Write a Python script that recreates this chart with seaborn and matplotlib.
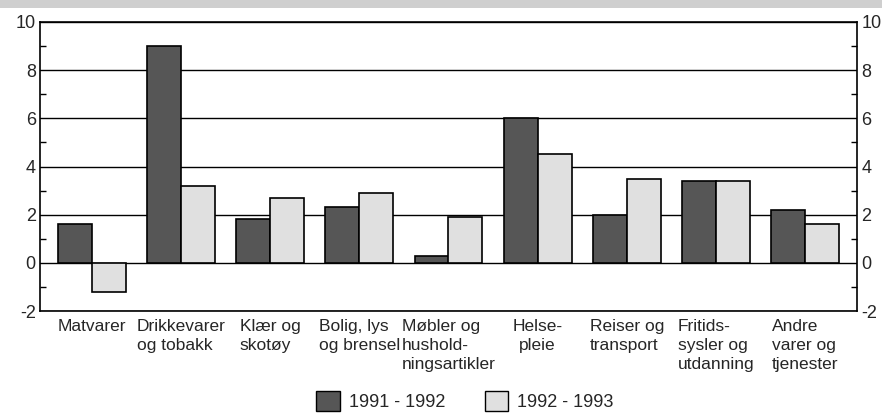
import numpy as np
import pandas as pd
import matplotlib
matplotlib.use("Agg")
import matplotlib.pyplot as plt
import matplotlib.patches as mpatches
from matplotlib.ticker import MultipleLocator
import seaborn as sns

# data
kategorier = ["Matvarer", "Drikkevarer\nog tobakk", "Klær og\nskotøy", "Bolig, lys\nog brensel",
              "Møbler og\nhushold-\nningsartikler", "Helse-\npleie", "Reiser og\ntransport",
              "Fritids-\nsysler og\nutdanning", "Andre\nvarer og\ntjenester"]
v_1991_1992 = [1.6, 9.0, 1.8, 2.3, 0.3, 6.0, 2.0, 3.4, 2.2]
v_1992_1993 = [-1.2, 3.2, 2.7, 2.9, 1.9, 4.5, 3.5, 3.4, 1.6]
perioder = ["1991 - 1992", "1992 - 1993"]
farger = ["#565656", "#e0e0e0"]

df = pd.DataFrame({
    "kategori": kategorier * 2,
    "periode": [perioder[0]] * len(kategorier) + [perioder[1]] * len(kategorier),
    "verdi": v_1991_1992 + v_1992_1993,
})

sns.set_style("white")
plt.rcParams["font.family"] = ["Liberation Sans", "DejaVu Sans"]

fig = plt.figure(figsize=(8.82, 4.17), dpi=100)
ax = fig.add_axes([40 / 882, 1 - 311 / 417, 817 / 882, 289 / 417])

sns.barplot(data=df, x="kategori", y="verdi", hue="periode", palette=farger,
            width=0.76, gap=0, edgecolor="black", linewidth=1.2,
            saturation=1, legend=False, ax=ax, zorder=3)

#rutenett og akser
ax.set_ylim(-2, 10)
ax.set_xlim(-0.583, 8.583)
ax.yaxis.set_major_locator(MultipleLocator(2))
ax.yaxis.set_minor_locator(MultipleLocator(1))
ax.grid(axis="y", which="major", color="black", linewidth=1.0, zorder=0)
ax.set_axisbelow(True)
for s in ax.spines.values():
    s.set_visible(True)
    s.set_color("black")
    s.set_linewidth(1.2)

ax.tick_params(axis="y", which="both", direction="in", left=True, right=True,
               labelleft=True, labelright=True, labelsize=13, pad=3, color="black")
ax.tick_params(axis="y", which="major", length=0)
ax.tick_params(axis="y", which="minor", length=4, width=1)
ax.tick_params(axis="x", length=0, labelsize=12.5, pad=6)
ax.set_yticklabels([f"{int(t)}" for t in ax.get_yticks()])
ax.set_xlabel("")
ax.set_ylabel("")

for lab in ax.get_xticklabels():
    lab.set_linespacing(1.3)
    lab.set_multialignment("center" if lab.get_text().startswith("Helse") else "left")
    lab.set_verticalalignment("top")

# legende
handles = [mpatches.Patch(facecolor=farger[i], edgecolor="black", linewidth=1.0, label=perioder[i])
           for i in range(2)]
fig.legend(handles=handles, loc="center", bbox_to_anchor=(465 / 882, 1 - 401 / 417), ncol=2,
           frameon=False, fontsize=13, handlelength=1.3, handleheight=1.3, handletextpad=0.5,
           columnspacing=2.2)

# grå stripe øverst (skannet kant)
fig.patches.append(mpatches.Rectangle((0, 1 - 8 / 417), 1, 8 / 417, transform=fig.transFigure,
                                      facecolor="#cfcfcf", edgecolor="none", zorder=0))

fig.savefig("out.png", dpi=100)
